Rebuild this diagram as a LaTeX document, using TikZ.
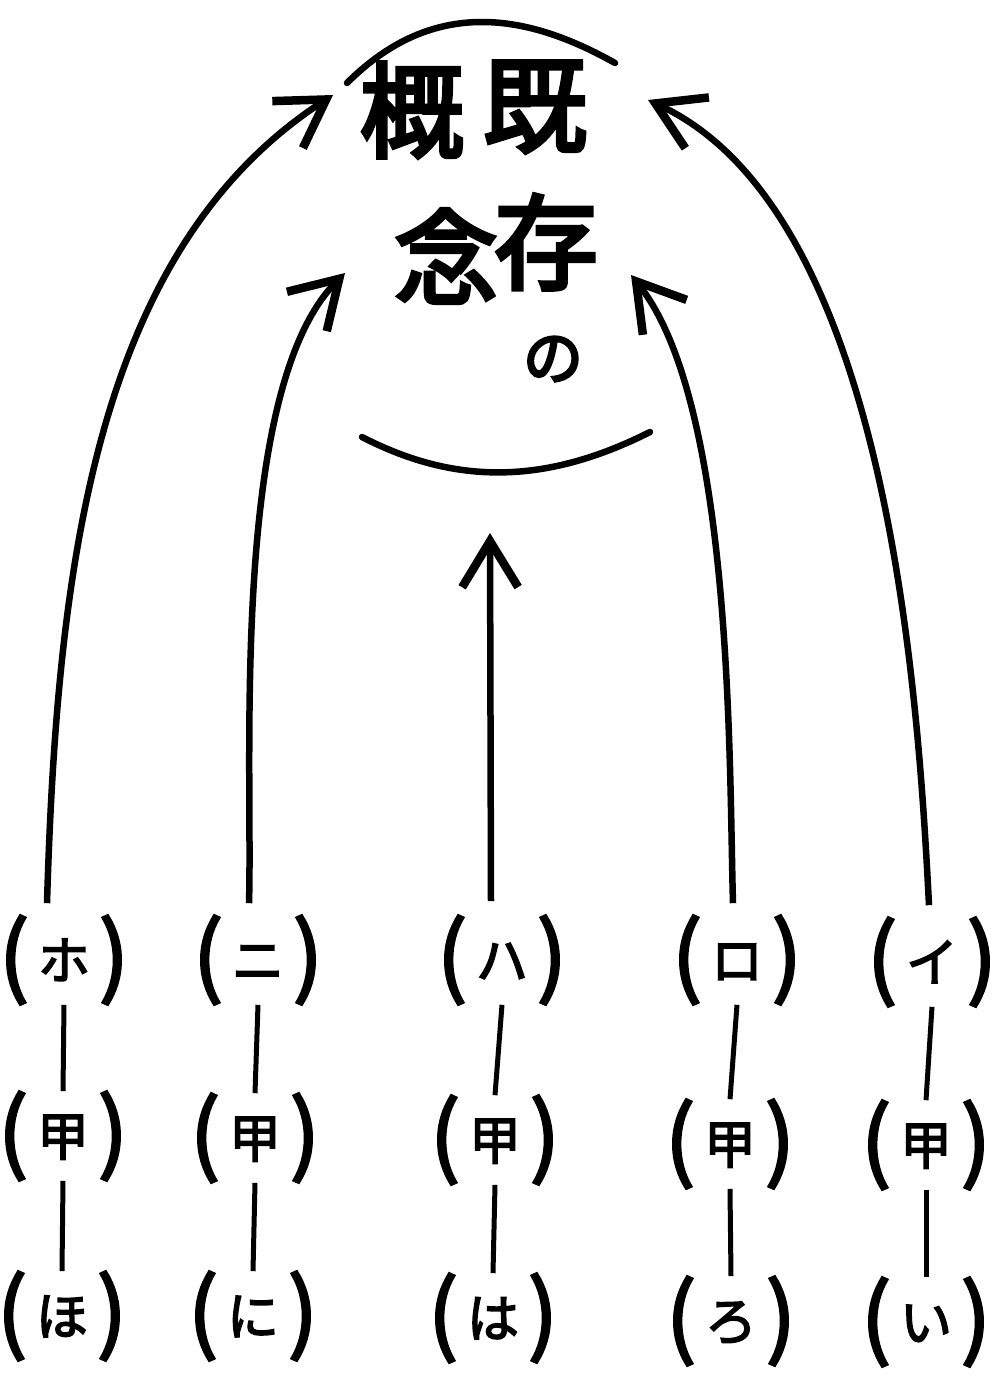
\documentclass[tikz,border=0pt]{standalone}
\usepackage{fontspec}
\newfontfamily\cjk[FakeBold=3]{Noto Sans CJK JP}
\newfontfamily\cjkb[FakeBold=4]{Noto Sans CJK JP}
\usetikzlibrary{arrows.meta}
\newcommand\plab[1]{{\fontsize{88}{88}\selectfont(}\hspace{9pt}\raisebox{8pt}{\fontsize{52}{52}\selectfont #1}\hspace{9pt}{\fontsize{88}{88}\selectfont)}}
\tikzset{
  lab/.style={inner sep=0pt, font=\cjk},
  big/.style={inner sep=0pt, font={\cjkb\fontsize{104}{104}\selectfont}},
  kana/.style={inner sep=0pt, font={\cjkb\fontsize{60}{60}\selectfont}},
  link/.style={line width=5pt},
  flow/.style={line width=6.5pt, -{Straight Barb[length=46pt,width=56pt,line width=8.5pt]}},
  brace/.style={line width=6.5pt, line cap=round}
}
\begin{document}
\begin{tikzpicture}[x=1pt,y=-1pt]
\useasboundingbox[fill=white] (0,0) rectangle (1006,1377);
% central text
\node[big] (gai) at (412,110) {概};
\node[big] (ki)  at (535,107) {既};
\node[big] (nen) at (446,256) {念};
\node[big] (son) at (546,242) {存};
\node[kana] (no) at (553,359) {の};
% brackets
\draw[brace] (347,83) .. controls (434,-4) and (528,14) .. (615,63);
\draw[brace] (362,437) .. controls (455,485) and (545,485) .. (650,432);
% labels row 1
\node[lab] (h1) at (64,960) {\plab{ホ}};
\node[lab] (n1) at (258,960) {\plab{ニ}};
\node[lab] (c1) at (502,960) {\plab{ハ}};
\node[lab] (r1) at (737,960) {\plab{ロ}};
\node[lab] (i1) at (932,962) {\plab{イ}};
% row 2
\node[lab] (h2) at (63,1136) {\plab{甲}};
\node[lab] (n2) at (255,1138) {\plab{甲}};
\node[lab] (c2) at (495,1140) {\plab{甲}};
\node[lab] (r2) at (730,1144) {\plab{甲}};
\node[lab] (i2) at (926,1145) {\plab{甲}};
% row 3
\node[lab] (h3) at (62,1316) {\plab{ほ}};
\node[lab] (n3) at (253,1316) {\plab{に}};
\node[lab] (c3) at (493,1318) {\plab{は}};
\node[lab] (r3) at (731,1321) {\plab{ろ}};
\node[lab] (i3) at (926,1322) {\plab{い}};
% vertical links
\foreach \a/\b in {h1/h2,h2/h3,n1/n2,n2/n3,c1/c2,c2/c3,r1/r2,r2/r3,i1/i2,i2/i3}
  \draw[link] (\a.south) -- (\b.north);
% arrow targets
\coordinate (tH) at (333,95);
\coordinate (tN) at (345,273);
\coordinate (tC) at (490,533);
\coordinate (tR) at (631,275);
\coordinate (tI) at (648,100);
% arrows
\draw[flow] ([xshift=-17pt,yshift=12pt]h1.north) .. controls (57,567) and (95,250) .. (tH);
\draw[flow] ([xshift=-9pt,yshift=12pt]n1.north) .. controls (253,766) and (229,390) .. (tN);
\draw[flow] ([xshift=-11pt,yshift=14pt]c1.north) -- (tC);
\draw[flow] ([xshift=-4pt,yshift=12pt]r1.north) .. controls (729,769) and (734,404) .. (tR);
\draw[flow] ([xshift=-3pt,yshift=12pt]i1.north) .. controls (918,689) and (887,211) .. (tI);
\end{tikzpicture}
\end{document}
